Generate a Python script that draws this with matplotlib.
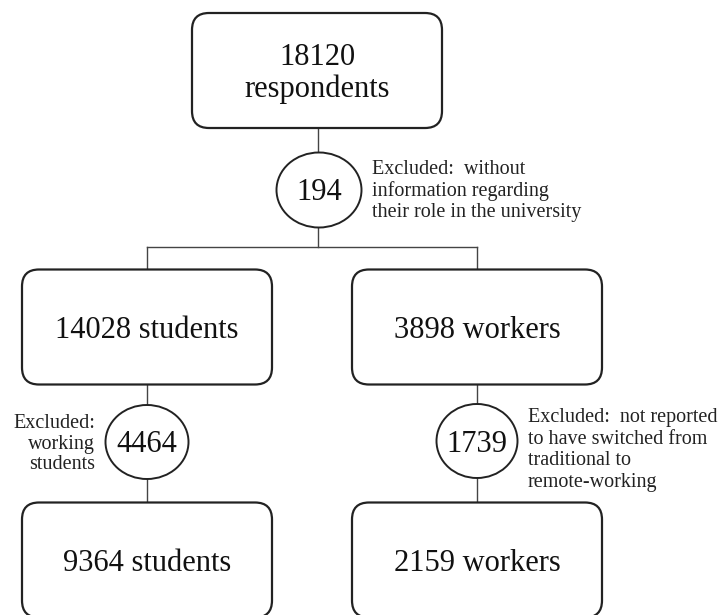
import matplotlib.pyplot as plt
from matplotlib.patches import FancyBboxPatch, Ellipse

total_respondents = 18120
group_counts = [14028, 3898]
group_labels = ["students", "workers"]
final_counts = [9364, 2159]
excluded_counts = [194, 4464, 1739]
excluded_notes = [
    "Excluded:  without\ninformation regarding\ntheir role in the university",
    "Excluded:\nworking\nstudents",
    "Excluded:  not reported\nto have switched from\ntraditional to\nremote-working",
]

plt.rcParams['font.family'] = ['Liberation Serif', 'DejaVu Serif']
edge = "#222222"
line_c = "#444444"

fig = plt.figure()
fig.set_size_inches(7.21, 6.15)
ax = fig.add_axes([0, 0, 1, 1], frameon=False)
ax.set_xlim(0, 721)
ax.set_ylim(615, 0)
ax.set_xticks([])
ax.set_yticks([])

def box(cx, cy, w, h, text, fs=22, dy=3.5):
    p = FancyBboxPatch((cx - w / 2, cy - h / 2), w, h,
                       boxstyle="round,pad=0,rounding_size=17",
                       fc="white", ec=edge, lw=1.6, zorder=3)
    ax.add_patch(p)
    ax.text(cx, cy + dy, text, ha="center", va="center", fontsize=fs,
            color="#111111", zorder=4, linespacing=1.12)

def circle(cx, cy, w, h, value):
    e = Ellipse((cx, cy), w, h, fc="white", ec=edge, lw=1.4, zorder=3)
    ax.add_patch(e)
    ax.text(cx, cy + 3, str(value), ha="center", va="center", fontsize=22,
            color="#111111", zorder=4)

def vline(x, y0, y1):
    ax.plot([x, x], [y0, y1], color=line_c, lw=1.0, zorder=1)

# layout
col_x = [147, 477]
row1_y, row2_y = 327, 560
bw, bh = 250, 115

# top part
box(317, 70.5, bw, bh, f"{total_respondents}\nrespondents", dy=3)
vline(318, 128, 247)
circle(319, 190, 85, 75, excluded_counts[0])
ax.text(372, 191, excluded_notes[0], ha="left", va="center", fontsize=14.5,
        color="#222222", linespacing=1.17)
ax.plot([col_x[0], col_x[1]], [247, 247], color=line_c, lw=1.0, zorder=1)

circ_y = [442, 441]
circ_w = [83, 81]
for i in range(2):
    x = col_x[i]
    vline(x, 247, 505)
    box(x, row1_y, bw, bh, f"{group_counts[i]} {group_labels[i]}")
    circle(x, circ_y[i], circ_w[i], 74, excluded_counts[i + 1])
    box(x, row2_y, bw, bh, f"{final_counts[i]} {group_labels[i]}")

ax.text(95, 444, excluded_notes[1], ha="right", va="center", fontsize=14.5,
        color="#222222", linespacing=1.1, multialignment="right")
ax.text(528, 450, excluded_notes[2], ha="left", va="center", fontsize=14.5,
        color="#222222", linespacing=1.17)

fig.savefig("out.png", dpi=100, facecolor="white")
